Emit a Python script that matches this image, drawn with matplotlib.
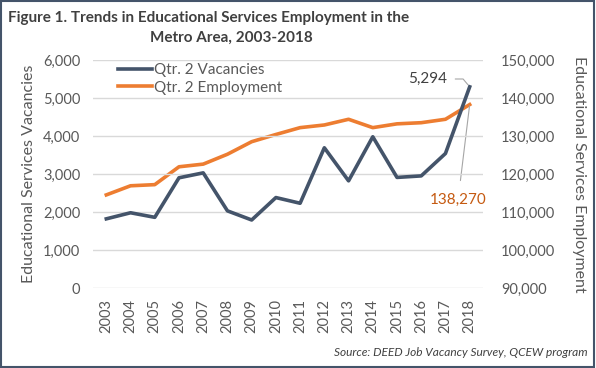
import matplotlib
matplotlib.use("Agg")
import matplotlib.pyplot as plt
from matplotlib.patches import Rectangle

years = [str(y) for y in range(2003, 2019)]
vacancies = [1820, 1980, 1860, 2900, 3030, 2030, 1790, 2380, 2230, 3690, 2820, 3980, 2910, 2950, 3540, 5294]
employment = [114500, 116900, 117200, 121900, 122600, 125200, 128500, 130400, 132200, 132900,
              134400, 132200, 133200, 133500, 134400, 138270]

left_ticks = [0, 1000, 2000, 3000, 4000, 5000, 6000]
right_ticks = [90000, 100000, 110000, 120000, 130000, 140000, 150000]

plt.rcParams['font.family'] = ['Lato', 'DejaVu Sans']
gray = '#595959'
c_vac = '#44546A'
c_emp = '#ED7D31'

fig = plt.figure(figsize=(5.96, 3.68), dpi=100)
W, H = 596, 368
ax = fig.add_axes([93 / W, 1 - 288 / H, (483 - 93) / W, (288 - 60) / H])
ax2 = ax.twinx()

x = list(range(len(years)))
l1, = ax.plot(x, vacancies, color=c_vac, lw=2.6, label='Qtr. 2 Vacancies', zorder=3)
l2, = ax2.plot(x, employment, color=c_emp, lw=2.6, label='Qtr. 2 Employment', zorder=3)

ax.set_xlim(-0.55, len(years) - 0.45)
ax.set_ylim(0, 6000)
ax2.set_ylim(90000, 150000)
ax.set_yticks(left_ticks)
ax.set_yticklabels([f"{v:,}" for v in left_ticks])
ax2.set_yticks(right_ticks)
ax2.set_yticklabels([f"{v:,}" for v in right_ticks])
ax.set_xticks(x)
ax.set_xticklabels(years, rotation=90)

ax.grid(axis='y', color='#D9D9D9', lw=1)
ax.set_axisbelow(True)
for a in (ax, ax2):
    for s in a.spines.values():
        s.set_visible(False)
    a.tick_params(length=0, labelsize=10.5, colors=gray)
ax.tick_params(axis='y', pad=9)
ax2.tick_params(axis='y', pad=13)
ax.tick_params(axis='x', pad=8)

ax.set_zorder(ax2.get_zorder() + 1)
ax.patch.set_visible(False)

ax.set_ylabel('Educational Services Vacancies', fontsize=11.5, color=gray, labelpad=5)
ax2.set_ylabel('Educational Services Employment', fontsize=11.5, color=gray, rotation=270, labelpad=22)

leg = ax.legend(handles=[l1, l2], loc='upper left', bbox_to_anchor=(0.03, 1.045), frameon=False,
                fontsize=11, labelcolor=gray, handlelength=2.2, handletextpad=0.15, labelspacing=0.2)

# annotations
ax.annotate(f"{vacancies[-1]:,}", xy=(x[-1], vacancies[-1]), xytext=(14.06, 5500),
            fontsize=11, color='#404040', ha='right', va='center',
            arrowprops=dict(arrowstyle='-', color='#A6A6A6', lw=0.8,
                            connectionstyle='angle,angleA=0,angleB=130,rad=0',
                            shrinkA=4, shrinkB=2))
ax2.annotate(f"{employment[-1]:,}", xy=(x[-1], employment[-1]), xytext=(14.52, 113160),
             fontsize=11, color='#C55A11', ha='center', va='center',
             arrowprops=dict(arrowstyle='-', color='#A6A6A6', lw=0.8, shrinkA=7, shrinkB=1))

fig.text(8 / W, 1 - 18 / H, 'Figure 1. Trends in Educational Services Employment in the',
         fontsize=11, fontweight='bold', color='#404040', ha='left', va='center')
fig.text(231 / W, 1 - 38 / H, 'Metro Area, 2003-2018',
         fontsize=11, fontweight='bold', color='#404040', ha='center', va='center')
fig.text(588 / W, 1 - 352 / H, 'Source: DEED Job Vacancy Survey, QCEW program',
         fontsize=8.6, style='italic', color='#404040', ha='right', va='center')

fig.add_artist(Rectangle((0.002, 0.003), 0.995, 0.994, transform=fig.transFigure,
                         fill=False, edgecolor='#44546A', lw=1.5))

fig.savefig('out.png', dpi=100)
